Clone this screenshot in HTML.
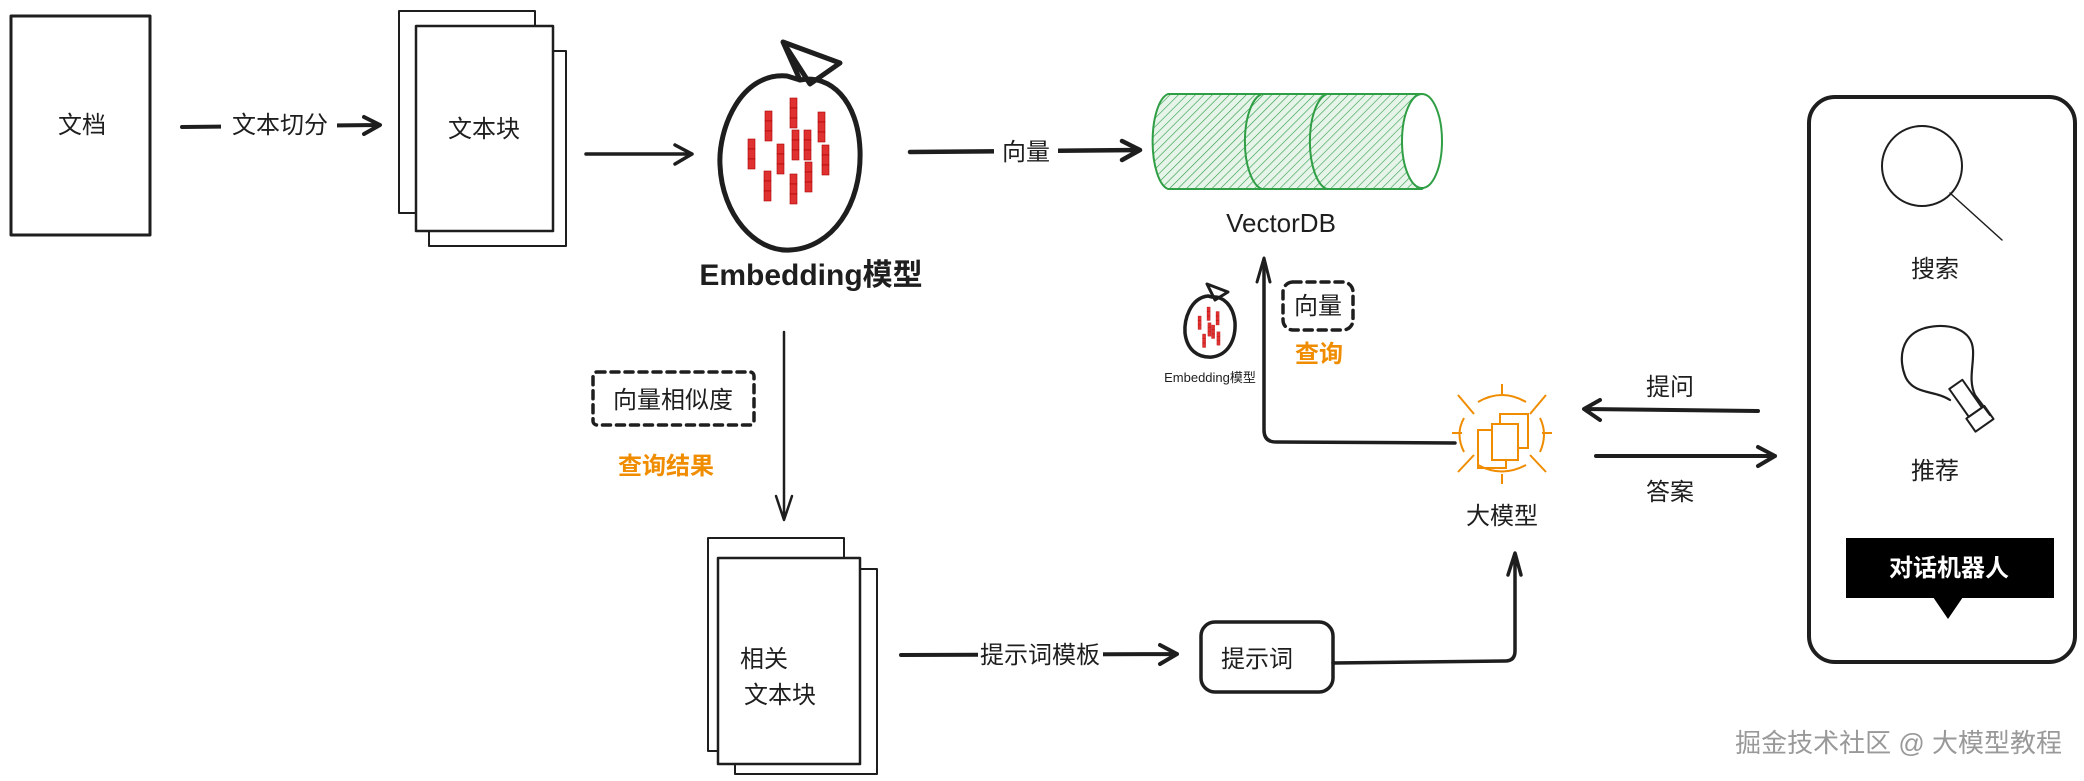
<!DOCTYPE html>
<html><head><meta charset="utf-8"><style>
html,body{margin:0;padding:0;background:#fff;}
svg{display:block;}
text{font-family:"Liberation Sans","Noto Sans CJK SC",sans-serif;fill:#1e1e1e;}
</style></head><body>
<svg width="2084" height="781" viewBox="0 0 2084 781" xmlns="http://www.w3.org/2000/svg">
<defs>
<pattern id="hatch" width="6" height="6" patternUnits="userSpaceOnUse" patternTransform="rotate(45)">
<rect width="6" height="6" fill="#e6f4ea"/><line x1="0" y1="0" x2="0" y2="6" stroke="#2f9e44" stroke-width="1.2"/>
</pattern>
<g id="bars" fill="#e03131" stroke="#a00" stroke-width="0.6">
<rect x="0" y="0" width="7" height="10"/><rect x="0" y="10" width="7" height="10"/><rect x="0" y="20" width="7" height="10"/>
</g>
</defs>
<g fill="none" stroke="#1e1e1e" stroke-linecap="round" stroke-linejoin="round">
<rect x="11" y="16" width="139" height="219" stroke-width="3"/>
<rect x="399" y="11" width="136" height="202" stroke-width="2" fill="#fff"/>
<rect x="429" y="51" width="137" height="195" stroke-width="2" fill="#fff"/>
<rect x="416" y="26" width="137" height="205" stroke-width="2.5" fill="#fff"/>
<path d="M182 127 L378 125 M364 117 L380 125 L364 134" stroke-width="4"/>
<path d="M586 154 L692 154 M675 145 L692 154 L675 164" stroke-width="3.5"/>
<path d="M910 152 L1140 150 M1122 141 L1140 150 L1122 160" stroke-width="4.5"/>
<path d="M787 76 C740 72 718 130 720 165 C722 215 755 252 790 250 C832 248 862 205 860 150 C858 100 830 74 800 80 Z" stroke-width="5"/>
<path d="M783 42 L840 63 L810 84 Z M783 42 L800 80" stroke-width="5"/>
<path d="M784 332 L784 518 M776 496 L784 520 L792 496" stroke-width="2.5"/>
<rect x="593" y="372" width="161" height="53" rx="4" stroke-width="3.5" stroke-dasharray="8 6"/>
<rect x="708" y="538" width="136" height="213" stroke-width="2" fill="#fff"/>
<rect x="735" y="569" width="142" height="205" stroke-width="2" fill="#fff"/>
<rect x="718" y="558" width="142" height="206" stroke-width="2.5" fill="#fff"/>
<path d="M901 655 L1177 654 M1160 645 L1177 654 L1160 664" stroke-width="4"/>
<rect x="1201" y="622" width="132" height="70" rx="14" stroke-width="3.5"/>
<path d="M1333 663 L1505 661 Q1515 661 1515 651 L1515 555 M1508 575 L1515 553 L1521 575" stroke-width="3.5"/>
<path d="M1264 262 L1264 430 Q1264 442 1276 442 L1455 443" stroke-width="3.5"/>
<path d="M1257 282 L1264 258 L1270 282" stroke-width="3"/>
<rect x="1283" y="282" width="70" height="48" rx="10" stroke-width="3.5" stroke-dasharray="8 6"/>
<path d="M1208 296 C1190 298 1184 320 1185 333 C1187 350 1198 358 1212 357 C1228 355 1236 340 1235 322 C1233 305 1223 296 1212 297 Z" stroke-width="3.5"/>
<path d="M1207 284 L1228 292 L1215 300 Z" stroke-width="3"/>
<path d="M1758 411 L1585 409 M1600 400 L1584 409 L1600 420" stroke-width="4"/>
<path d="M1596 456 L1775 456 M1758 447 L1775 456 L1758 466" stroke-width="4"/>
<rect x="1809" y="97" width="266" height="565" rx="26" stroke-width="4"/>
<circle cx="1922" cy="166" r="40" stroke-width="2"/>
<path d="M1950 193 L2002 240" stroke-width="1.5"/>
<!-- bulb -->
<path d="M1950 400 C1935 390 1915 395 1906 378 C1898 360 1900 335 1925 328 C1950 322 1972 330 1973 350 C1974 365 1968 380 1975 395 L1990 415" stroke-width="2.2"/>
<g transform="rotate(-35 1975 410)">
<rect x="1966" y="378" width="16" height="34" stroke-width="2"/>
<rect x="1963" y="412" width="22" height="16" stroke-width="2"/>
</g>
</g>
<g stroke="#2f9e44" stroke-width="2">
<path d="M1168 94 L1422 94 A20 50 0 0 1 1422 189 L1168 189 A18 48 0 0 1 1168 94 Z" fill="url(#hatch)"/>
<path d="M1262 94 A20 48 0 0 0 1262 189 M1327 94 A20 48 0 0 0 1327 189" fill="none"/>
<ellipse cx="1422" cy="141" rx="20" ry="47" fill="#fff"/>
</g>
<use href="#bars" x="790" y="98"/><use href="#bars" x="765" y="111"/><use href="#bars" x="818" y="112"/>
<use href="#bars" x="792" y="130"/><use href="#bars" x="804" y="130"/><use href="#bars" x="748" y="139"/>
<use href="#bars" x="777" y="144"/><use href="#bars" x="822" y="145"/><use href="#bars" x="805" y="162"/>
<use href="#bars" x="764" y="171"/><use href="#bars" x="790" y="174"/>
<g transform="translate(1198,307) scale(0.45)">
<use href="#bars" x="20" y="0"/><use href="#bars" x="0" y="20"/><use href="#bars" x="40" y="10"/><use href="#bars" x="22" y="35"/><use href="#bars" x="30" y="40"/><use href="#bars" x="10" y="60"/><use href="#bars" x="42" y="55"/>
</g>
<g fill="none" stroke="#f08c00" stroke-width="2">
<rect x="1500" y="414" width="28" height="34"/>
<rect x="1478" y="430" width="28" height="38" fill="#fff"/>
<rect x="1492" y="424" width="26" height="36" fill="#fff"/>
<path d="M1478 402 Q1502 388 1526 402 M1478 465 Q1502 478 1526 465 M1464 418 Q1455 434 1464 452 M1540 418 Q1548 434 1540 452 M1458 395 L1474 414 M1546 395 L1530 414 M1458 472 L1474 455 M1546 472 L1530 455 M1502 384 L1502 394 M1502 474 L1502 484 M1452 433 L1462 433 M1542 433 L1552 433"/>
</g>
<rect x="1846" y="538" width="208" height="60" fill="#000"/>
<path d="M1933 597 L1963 597 L1948 619 Z" fill="#000"/>
<g font-size="24" text-anchor="middle">
<text x="82" y="133">文档</text>
<rect x="221" y="108" width="116" height="30" fill="#fff"/>
<text x="280" y="133">文本切分</text>
<text x="484" y="137">文本块</text>
<text x="811" y="285" font-size="30" font-weight="bold">Embedding模型</text>
<rect x="994" y="136" width="64" height="30" fill="#fff"/>
<text x="1026" y="160">向量</text>
<text x="1281" y="232" font-size="26">VectorDB</text>
<text x="1210" y="382" font-size="13">Embedding模型</text>
<text x="1318" y="314">向量</text>
<text x="1319" y="362" style="fill:#f08c00" font-weight="bold">查询</text>
<text x="673" y="408">向量相似度</text>
<text x="666" y="474" style="fill:#f08c00" font-weight="bold">查询结果</text>
<text x="764" y="667">相关</text>
<text x="780" y="703">文本块</text>
<rect x="978" y="640" width="125" height="30" fill="#fff"/>
<text x="1040" y="663">提示词模板</text>
<text x="1257" y="667">提示词</text>
<text x="1502" y="524">大模型</text>
<text x="1670" y="395">提问</text>
<text x="1670" y="500">答案</text>
<text x="1935" y="277">搜索</text>
<text x="1935" y="479">推荐</text>
<text x="1949" y="576" style="fill:#fff" font-weight="bold">对话机器人</text>
<text x="2062" y="752" font-size="26" text-anchor="end" style="fill:#999">掘金技术社区 @ 大模型教程</text>
</g>
</svg>
</body></html>
